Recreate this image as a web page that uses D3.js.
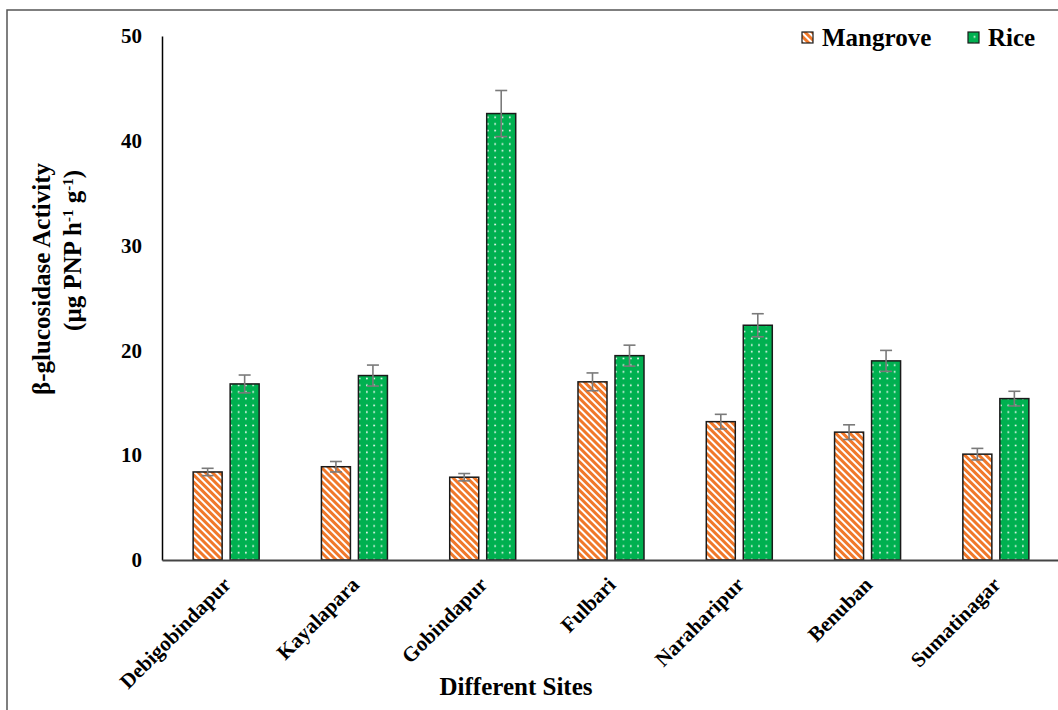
<!DOCTYPE html>
<html>
<head>
<meta charset="utf-8">
<script src="https://cdn.jsdelivr.net/npm/d3@7"></script>
<style>
  html, body { margin: 0; padding: 0; background: #fff; }
  svg { display: block; font-family: "Liberation Serif", "Times New Roman", serif; font-weight: bold; }
</style>
</head>
<body>
<svg id="chart" width="1058" height="710"></svg>
<script>
// β-glucosidase activity by site, mangrove vs rice soils
const sites = ["Debigobindapur", "Kayalapara", "Gobindapur", "Fulbari", "Naraharipur", "Benuban", "Sumatinagar"];
const series = ["Mangrove", "Rice"];
const mangrove = [8.4, 8.9, 7.9, 17.0, 13.2, 12.2, 10.1];
const mangroveErr = [0.35, 0.5, 0.35, 0.85, 0.7, 0.7, 0.55];
const rice = [16.8, 17.6, 42.6, 19.5, 22.4, 19.0, 15.4];
const riceErr = [0.85, 1.0, 2.2, 1.0, 1.1, 1.0, 0.7];
const yTicks = [0, 10, 20, 30, 40, 50];

const svg = d3.select("#chart");

// outer frame
svg.append("rect")
  .attr("x", 7).attr("y", 10).attr("width", 1200).attr("height", 800)
  .attr("fill", "none").attr("stroke", "#555").attr("stroke-width", 1.5);

// fill patterns
const defs = svg.append("defs");
const hatch = defs.append("pattern")
  .attr("id", "hatch").attr("patternUnits", "userSpaceOnUse")
  .attr("width", 5).attr("height", 5)
  .attr("patternTransform", "rotate(-45)");
hatch.append("rect").attr("width", 5).attr("height", 5).attr("fill", "#fff");
hatch.append("rect").attr("width", 3).attr("height", 5).attr("fill", "#f0782a");

const dots = defs.append("pattern")
  .attr("id", "dots").attr("patternUnits", "userSpaceOnUse")
  .attr("width", 7.3).attr("height", 6.7);
dots.append("rect").attr("width", 7.3).attr("height", 6.7).attr("fill", "#00b050");
dots.append("circle").attr("cx", 3.6).attr("cy", 3.3).attr("r", 0.9).attr("fill", "#fff");

const fills = { Mangrove: "url(#hatch)", Rice: "url(#dots)" };

// scales
const x0 = d3.scaleBand().domain(sites).range([162, 1060]).padding(0);
const bw = x0.bandwidth();
const x1 = d3.scaleBand().domain(series)
  .range([bw / 2 - 33, bw / 2 + 33])
  .paddingInner(2 - 66 / 37).paddingOuter(0);
const y = d3.scaleLinear().domain([0, 50]).range([560, 36]);

const rows = sites.map((s, i) => ({
  site: s,
  vals: [
    { key: "Mangrove", v: mangrove[i], e: mangroveErr[i] },
    { key: "Rice", v: rice[i], e: riceErr[i] }
  ]
}));

const FONT = "Liberation Serif";

// y axis
const yAxis = svg.append("g")
  .attr("transform", "translate(162,0)")
  .call(d3.axisLeft(y).tickValues(yTicks).tickSize(0).tickPadding(20));
yAxis.select(".domain").attr("stroke", "#000").attr("stroke-width", 1.5);
yAxis.selectAll("text")
  .attr("font-size", 21).attr("font-family", FONT).attr("font-weight", "bold")
  .attr("fill", "#000");

// bars
const groups = svg.append("g").selectAll("g")
  .data(rows).join("g")
  .attr("transform", d => `translate(${x0(d.site)},0)`);

groups.selectAll("rect")
  .data(d => d.vals).join("rect")
  .attr("x", d => x1(d.key))
  .attr("y", d => y(d.v))
  .attr("width", x1.bandwidth())
  .attr("height", d => y(0) - y(d.v))
  .attr("fill", d => fills[d.key])
  .attr("stroke", "#1a1a1a").attr("stroke-width", 1.5);

// error bars
const eb = groups.selectAll("g.err")
  .data(d => d.vals).join("g").attr("class", "err")
  .attr("stroke", "#7a7a7a").attr("stroke-width", 1.6);
eb.append("line")
  .attr("x1", d => x1(d.key) + x1.bandwidth() / 2)
  .attr("x2", d => x1(d.key) + x1.bandwidth() / 2)
  .attr("y1", d => y(d.v - d.e)).attr("y2", d => y(d.v + d.e));
[1, -1].forEach(sign => {
  eb.append("line")
    .attr("x1", d => x1(d.key) + x1.bandwidth() / 2 - 6)
    .attr("x2", d => x1(d.key) + x1.bandwidth() / 2 + 6)
    .attr("y1", d => y(d.v + sign * d.e)).attr("y2", d => y(d.v + sign * d.e));
});

// x axis
const xAxis = svg.append("g")
  .attr("transform", "translate(0,560)")
  .call(d3.axisBottom(x0).tickSize(0).tickPadding(0));
xAxis.select(".domain").attr("stroke", "#444").attr("stroke-width", 2);
xAxis.selectAll(".tick text")
  .attr("font-size", 21).attr("font-family", FONT).attr("font-weight", "bold")
  .attr("fill", "#000")
  .attr("text-anchor", "end")
  .attr("dy", 0)
  .attr("transform", "translate(6,26) rotate(-45)");

// axis titles
svg.append("text")
  .attr("x", 516).attr("y", 695)
  .attr("text-anchor", "middle").attr("font-size", 25)
  .text("Different Sites");

const yt = svg.append("g").attr("transform", "rotate(-90)");
yt.append("text")
  .attr("x", -163).attr("y", 50)
  .attr("text-anchor", "end").attr("font-size", 25)
  .text("β-glucosidase Activity");
const t2 = yt.append("text")
  .attr("x", -170).attr("y", 81)
  .attr("text-anchor", "end").attr("font-size", 25);
t2.append("tspan").text("(µg PNP h");
t2.append("tspan").attr("baseline-shift", "super").attr("font-size", 15).text("-1");
t2.append("tspan").text(" g");
t2.append("tspan").attr("baseline-shift", "super").attr("font-size", 15).text("-1");
t2.append("tspan").text(")");

// legend
const legend = svg.append("g");
const legendPos = [{ key: "Mangrove", x: 802 }, { key: "Rice", x: 968 }];
legendPos.forEach(p => {
  legend.append("rect")
    .attr("x", p.x).attr("y", 32).attr("width", 11).attr("height", 11)
    .attr("fill", fills[p.key]).attr("stroke", "#1a1a1a").attr("stroke-width", 1.2);
  legend.append("text")
    .attr("x", p.x + 20).attr("y", 46)
    .attr("font-size", 25)
    .text(p.key);
});
</script>
</body>
</html>
